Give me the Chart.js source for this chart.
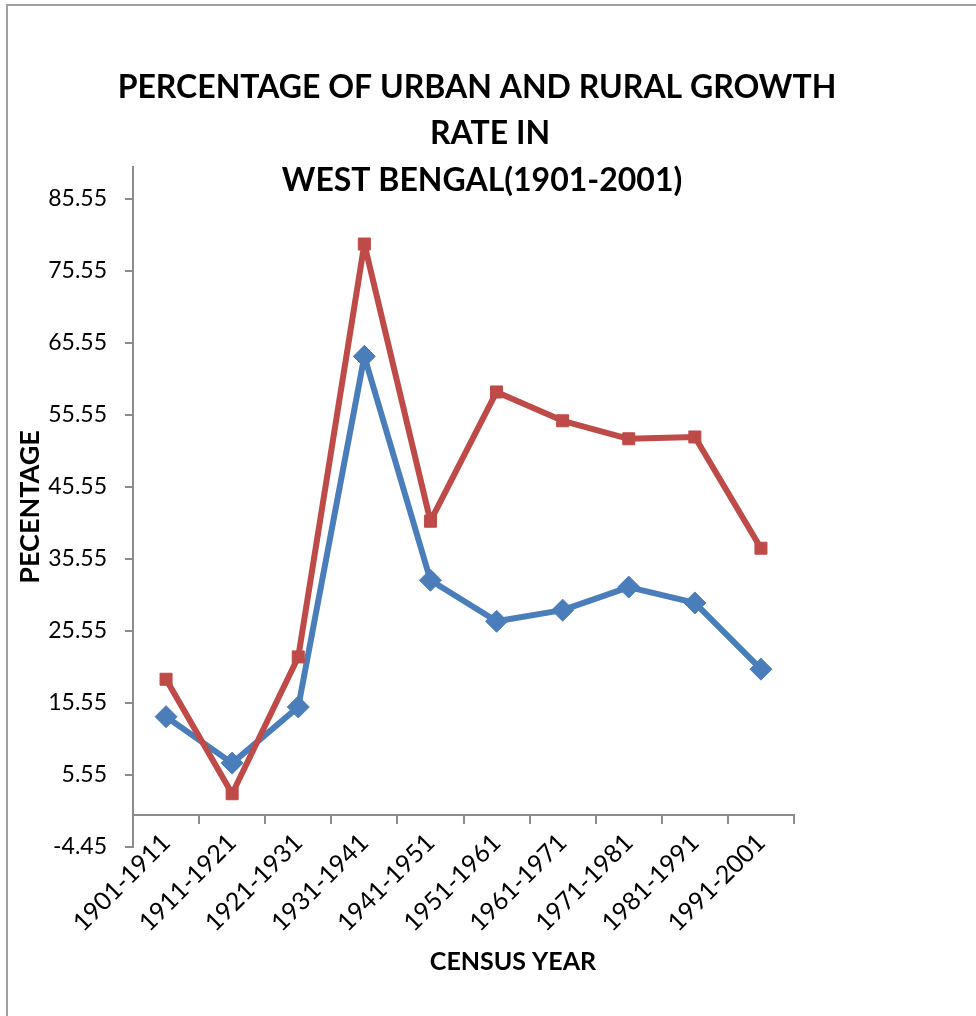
<!DOCTYPE html>
<html>
<head>
<meta charset="utf-8">
<script src="https://cdn.jsdelivr.net/npm/chart.js@4/dist/chart.umd.min.js"></script>
<style>
body { margin: 0; background: #fff; }
#frame { position: absolute; left: 6px; top: 4px; width: 1100px; height: 1100px; border: 2px solid #a0a0a0; }
#chart { position: absolute; left: 0; top: 0; }
</style>
</head>
<body>
<div id="frame"></div>
<canvas id="chart" width="976" height="1016"></canvas>
<script>
var censusYears = ['1901-1911', '1911-1921', '1921-1931', '1931-1941', '1941-1951',
                   '1951-1961', '1961-1971', '1971-1981', '1981-1991', '1991-2001'];
var blueSeries = [13.65, 7.2, 15.0, 63.7, 32.6, 26.9, 28.45, 31.65, 29.45, 20.25];
var redSeries = [18.85, 2.95, 21.95, 79.3, 40.8, 58.75, 54.75, 52.25, 52.5, 37.05];
var yTicks = [-4.45, 5.55, 15.55, 25.55, 35.55, 45.55, 55.55, 65.55, 75.55, 85.55];
var yTickLabels = ['-4.45', '5.55', '15.55', '25.55', '35.55', '45.55', '55.55', '65.55', '75.55', '85.55'];
var titleLines = ['PERCENTAGE OF URBAN AND RURAL GROWTH', 'RATE IN', 'WEST BENGAL(1901-2001)'];
var xTitle = 'CENSUS YEAR';
var yTitle = 'PECENTAGE';

// title and x axis title sit where Excel put them, not where Chart.js would centre them
var textPlugin = {
    id: 'textPlugin',
    afterDraw: function(chart) {
        var ctx = chart.ctx;
        var xs = [477, 490, 482];
        var ys = [88, 134, 181];
        ctx.save();
        ctx.fillStyle = '#000';
        ctx.textAlign = 'center';
        ctx.textBaseline = 'middle';
        ctx.font = 'bold 32px Lato';
        for (var i = 0; i < titleLines.length; i++) {
            ctx.fillText(titleLines[i], xs[i], ys[i]);
        }
        ctx.font = 'bold 25px Lato';
        ctx.fillText(xTitle, 513, 962);
        ctx.restore();
    }
};

var ctx = document.getElementById('chart').getContext('2d');
var chart = new Chart(ctx, {
    type: 'line',
    data: {
        labels: censusYears,
        datasets: [{
            label: 'Rural',
            data: blueSeries,
            borderColor: '#4A7EBB',
            backgroundColor: '#4A7EBB',
            borderWidth: 6,
            borderJoinStyle: 'round',
            pointStyle: 'rectRot',
            pointRadius: 11,
            pointBorderWidth: 1,
            tension: 0,
            order: 1
        }, {
            label: 'Urban',
            data: redSeries,
            borderColor: '#BE4B48',
            backgroundColor: '#BE4B48',
            borderWidth: 6,
            borderJoinStyle: 'round',
            pointStyle: 'rect',
            pointRadius: 8.5,
            pointBorderWidth: 1,
            tension: 0,
            order: 0
        }]
    },
    options: {
        responsive: false,
        animation: false,
        layout: { padding: { left: 8, top: 167, right: 182, bottom: 169 } },
        plugins: {
            legend: { display: false },
            tooltip: { enabled: false }
        },
        scales: {
            x: {
                position: { y: 0 },
                offset: true,
                grid: { drawOnChartArea: false, tickLength: 8, color: '#8c8c8c', lineWidth: 2, offset: true },
                border: { color: '#8c8c8c', width: 2 },
                ticks: { minRotation: 45, maxRotation: 45, padding: 5, color: '#000', font: { family: 'Lato', size: 25 } }
            },
            y: {
                min: -4.45,
                max: 90,
                afterBuildTicks: function(s) {
                    s.ticks = yTicks.map(function(v) { return { value: v }; });
                },
                afterFit: function(s) { s.width = 125; },
                grid: { drawOnChartArea: false, tickLength: 8, color: '#8c8c8c', lineWidth: 2 },
                border: { color: '#8c8c8c', width: 2 },
                ticks: {
                    padding: 18,
                    color: '#000',
                    font: { family: 'Lato', size: 23 },
                    callback: function(v, i) { return yTickLabels[i]; }
                },
                title: {
                    display: true,
                    text: yTitle,
                    color: '#000',
                    font: { family: 'Lato', size: 27, weight: 'bold' },
                    padding: { top: 6, bottom: 0 }
                }
            }
        }
    },
    plugins: [textPlugin]
});
</script>
</body>
</html>
